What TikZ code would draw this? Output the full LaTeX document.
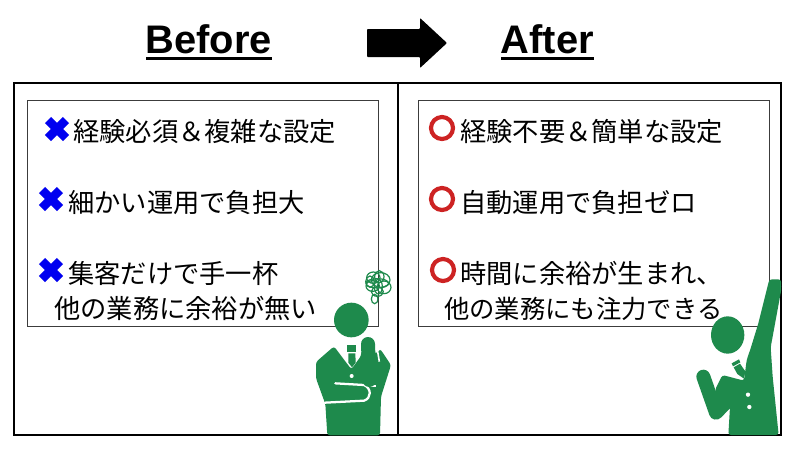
\documentclass[tikz,border=0pt]{standalone}
\usepackage{fontspec}
\setmainfont{Noto Sans CJK JP}
\newfontfamily\latinbold[Scale=1]{Liberation Sans Bold}
\definecolor{figgreen}{RGB}{30,138,76}
\definecolor{crossblue}{RGB}{0,0,240}
\definecolor{ringred}{RGB}{205,35,35}
\definecolor{innerline}{RGB}{60,60,60}
\tikzset{
 outerbox/.style={draw=black,line width=1.1pt},
 innerbox/.style={draw=innerline,line width=0.7pt},
 itemtext/.style={anchor=base west,inner sep=0pt,font=\fontsize{19.7pt}{23pt}\selectfont,text=black},
 tighttext/.style={anchor=base west,inner sep=0pt,font=\fontsize{19pt}{23pt}\selectfont,text=black},
 headtext/.style={anchor=base west,inner sep=0pt,font=\fontsize{29.9pt}{32pt}\latinbold,text=black},
 crossmark/.style={draw=crossblue,line width=6.4pt},
 ringmark/.style={draw=ringred,line width=3.1pt},
 figfill/.style={fill=figgreen,draw=none},
 gap/.style={fill=white,draw=none},
 limb/.style={draw=figgreen,line cap=round,line join=round},
}
\begin{document}
\begin{tikzpicture}[x=0.75pt,y=-0.75pt]
\useasboundingbox (0,0) rectangle (800,450);
\fill[white] (0,0) rectangle (800,450);
% panels
\draw[outerbox] (14,83) rectangle (398,435);
\draw[outerbox] (398,83) rectangle (781,435);
\draw[innerbox] (27,100) rectangle (378,326);
\draw[innerbox] (418,100) rectangle (769,326);
% headings
\node[headtext] (before) at (145.5,53) {Before};
\node[headtext] (after) at (500.5,53) {After};
\fill ([yshift=-2.9pt]before.base west) rectangle ([yshift=-5.2pt]before.base east);
\fill ([yshift=-2.9pt]after.base west) rectangle ([yshift=-5.2pt]after.base east);
% arrow
\fill[black,rounded corners=0.6pt] (367,29) -- (420,29) -- (420,18) -- (447,43) -- (420,68) -- (420,57) -- (367,57) -- cycle;
% left items
\foreach \cx/\cy in {57/129,51/199,51/270}{
 \draw[crossmark] (\cx-9,\cy-9) -- (\cx+9,\cy+9) (\cx-9,\cy+9) -- (\cx+9,\cy-9);
}
\node[itemtext] (l1) at (73,141) {経験必須＆複雑な設定};
\node[itemtext] (l2) at (68,212) {細かい運用で負担大};
\node[itemtext] (l3) at (68,283) {集客だけで手一杯};
\node[itemtext] (l4) at (54,318) {他の業務に余裕が無い};
% right items
\foreach \cx/\cy in {442/128,442/199,443/270}{
 \draw[ringmark] (\cx,\cy) circle (11);
}
\node[itemtext] (r1) at (460,141) {経験不要＆簡単な設定};
\node[itemtext] (r2) at (460,212) {自動運用で負担ゼロ};
\node[itemtext] (r3) at (460,283) {時間に余裕が生まれ、};
\node[tighttext] (r4) at (444,318) {他の業務にも注力できる};
% thinking figure
\begin{scope}[shift={(290,250)},x=0.25pt,y=-0.25pt]
 \fill[figfill] (184,210) circle (52);
 \fill[figfill,rounded corners=2pt] (132,289) -- (78,336) -- (78,385) -- (106,462) -- (112,556) -- (270,556) -- (273,440) -- (303,345) -- (270,296) -- (262,310) -- (215,300) -- (213,318) -- (184,358) -- cycle;
 \fill[figfill] (172,286) rectangle (198,305);
 \fill[figfill] (175,310) -- (196,310) -- (197,338) -- (186,352) -- (175,338) -- cycle;
 \fill[gap] (185,378) circle (6);
 \draw[white,line width=1.7pt,line cap=round] (136,400) -- (222,405) .. controls (245,415) and (245,445) .. (222,452) -- (105,458);
 \draw[white,line width=1pt] (225,408) -- (258,408);
 \draw[limb,line width=10.5pt] (234,282) -- (238,390);
 \draw[white,line width=1.2pt] (262,298) -- (268,335);
 \begin{scope}[draw=figgreen,line width=0.9pt]
  \draw (250,83) ellipse (20 and 17);
  \draw (272,90) ellipse (28 and 22);
  \draw (248,108) ellipse (20 and 16);
  \draw (282,112) ellipse (21 and 19);
  \draw (262,100) ellipse (34 and 14);
  \draw (262,125) ellipse (18 and 14);
  \draw (254,147) ellipse (10 and 14);
  \draw (268,80) ellipse (14 and 18);
  \draw (240,95) ellipse (13 and 17);
  \draw (265,110) ellipse (12 and 22);
 \end{scope}
\end{scope}
% cheering figure
\begin{scope}[shift={(680,260)},x=0.25pt,y=-0.25pt]
 \fill[figfill] (143,225) ellipse (50 and 56);
 \fill[figfill,rounded corners=2pt] (268,58) -- (303,58) -- (304,88) -- (272,262) -- (278,350) -- (296,525) -- (145,525) -- (150,440) -- (125,470) -- (105,390) -- (127,345) -- (192,362) -- (200,300) -- (212,265) -- (235,190) -- cycle;
 \draw[limb,line width=10.5pt] (70,350) -- (108,458) -- (150,415);
 \fill[figfill] (155,310) -- (177,298) -- (181,307) -- (159,319) -- cycle;
 \fill[figfill] (161,322) -- (180,311) -- (196,334) -- (192,356) -- (172,342) -- cycle;
 \fill[gap] (204,404) circle (6.5);
 \fill[gap] (208,441) circle (6.5);
\end{scope}
\end{tikzpicture}
\end{document}
